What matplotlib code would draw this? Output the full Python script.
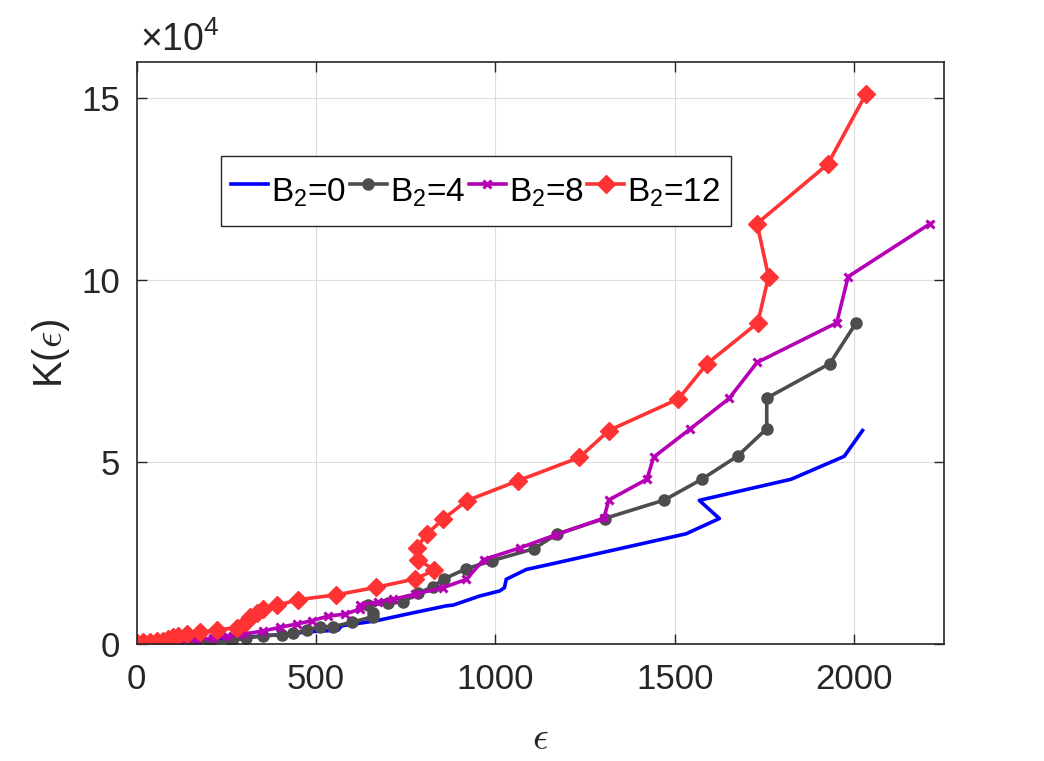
import numpy as np
import matplotlib
matplotlib.use('Agg')
import matplotlib.pyplot as plt

plt.rcParams['font.family'] = ['Liberation Sans', 'DejaVu Sans']
plt.rcParams['mathtext.fontset'] = 'custom'
plt.rcParams['mathtext.rm'] = 'Liberation Sans'
plt.rcParams['mathtext.it'] = 'Liberation Sans:italic'

# B2 = 0 (no markers)
x_b0 = [0, 74, 150, 232, 320, 400, 483, 561, 571, 668, 752, 863, 882, 956, 1012, 1025, 1030,
        1086, 1151, 1531, 1624, 1568, 1824, 1972, 2023]
y_b0 = [0, 100, 400, 1200, 2000, 2600, 3400, 3800, 5000, 6400, 8200, 10500, 10700, 13200, 14600,
        15500, 17800, 20500, 21900, 30300, 34500, 39500, 45300, 51600, 58700]

# B2 = 4 (circles)
x_b4 = [0, 50, 100, 153, 204, 265, 306, 353, 404, 436, 474, 510, 548, 600, 658, 658, 645, 700,
        743, 784, 826, 856, 919, 990, 1107, 1171, 1304, 1471, 1575, 1675, 1756, 1756, 1932, 2005]
y_b4 = [0, 100, 200, 300, 500, 900, 1600, 2300, 2500, 3000, 3800, 4800, 4800, 6000, 7500, 8400,
        10700, 11200, 11600, 13900, 15800, 17900, 20700, 22900, 26200, 30200, 34500, 39600, 45300,
        51700, 59200, 67600, 77100, 88300]

# B2 = 8 (crosses)
x_b8 = [0, 74, 121, 167, 214, 251, 297, 353, 399, 446, 488, 534, 580, 622, 622, 673, 715, 775,
        854, 919, 967, 1067, 1170, 1302, 1316, 1422, 1441, 1541, 1651, 1729, 1951, 1983, 2212]
y_b8 = [0, 100, 500, 1200, 1600, 2100, 2700, 3600, 4600, 5500, 6400, 7700, 8200, 9600, 10700,
        11600, 12300, 13700, 15500, 17800, 23200, 26400, 30100, 34600, 39600, 45300, 51400, 59000,
        67500, 77400, 88300, 101000, 115600]

# B2 = 12 (diamonds)
x_b12 = [0, 19, 37, 56, 74, 88, 102, 116, 139, 176, 223, 279, 306, 315, 334, 353, 390, 450, 555,
         668, 776, 830, 785, 780, 808, 855, 920, 1063, 1234, 1316, 1510, 1590, 1731, 1761, 1729,
         1926, 2033]
y_b12 = [300, 600, 500, 800, 700, 1500, 2000, 2300, 2700, 3200, 3900, 4500, 6000, 7500, 8500, 9500,
         10600, 12200, 13500, 15600, 17900, 20300, 23200, 26400, 30200, 34400, 39400, 44900, 51300,
         58700, 67400, 77100, 88300, 101000, 115600, 131900, 151300]

labels = ['B$_2$=0', 'B$_2$=4', 'B$_2$=8', 'B$_2$=12']

fig = plt.figure(figsize=(10.44, 7.61), dpi=100)
ax = fig.add_axes([0.1309, 0.1537, 0.7733, 0.7648])

lw = 2.6
ax.plot(x_b0, y_b0, color='#0000FF', lw=lw, label=labels[0])
ax.plot(x_b4, y_b4, color='#4D4D4D', lw=lw, marker='o', ms=8, label=labels[1])
ax.plot(x_b8, y_b8, color='#B500B5', lw=lw, marker='x', ms=6, mew=2.2, label=labels[2])
ax.plot(x_b12, y_b12, color='#FF3333', lw=lw, marker='D', ms=9.5, label=labels[3])

ax.set_xlim(0, 2250)
ax.set_ylim(0, 160000)
ax.set_xticks([0, 500, 1000, 1500, 2000])
ax.set_yticks([0, 50000, 100000, 150000])
ax.set_yticklabels(['0', '5', '10', '15'])

ax.grid(True, color='#DDDDDD', lw=0.8)
ax.set_axisbelow(True)
ax.tick_params(direction='in', length=7, width=1, top=True, right=True,
               labelsize=25, colors='#262626')
ax.tick_params(axis='x', pad=14)
ax.tick_params(axis='y', pad=12)
for s in ax.spines.values():
    s.set_color('#262626')
    s.set_linewidth(1.2)

ax.set_xlabel(r'$\epsilon$', fontsize=28, math_fontfamily='cm', color='#262626', labelpad=18)
ax.set_ylabel(r'K($\epsilon$)', fontsize=29, math_fontfamily='cm', color='#262626', labelpad=7)

ax.text(0.004, 1.006, r'$\times10^{4}$', transform=ax.transAxes, fontsize=27, color='#262626',
        ha='left', va='bottom')

leg = ax.legend(loc='upper left', bbox_to_anchor=(0.105, 0.838), ncol=4, fontsize=24,
                handlelength=1.1, handletextpad=0.1, columnspacing=0.1, borderpad=0.3,
                handleheight=1.9, borderaxespad=0, fancybox=False, framealpha=1,
                edgecolor='#262626')
leg.get_frame().set_linewidth(1.0)

fig.savefig('out.png', dpi=100)
